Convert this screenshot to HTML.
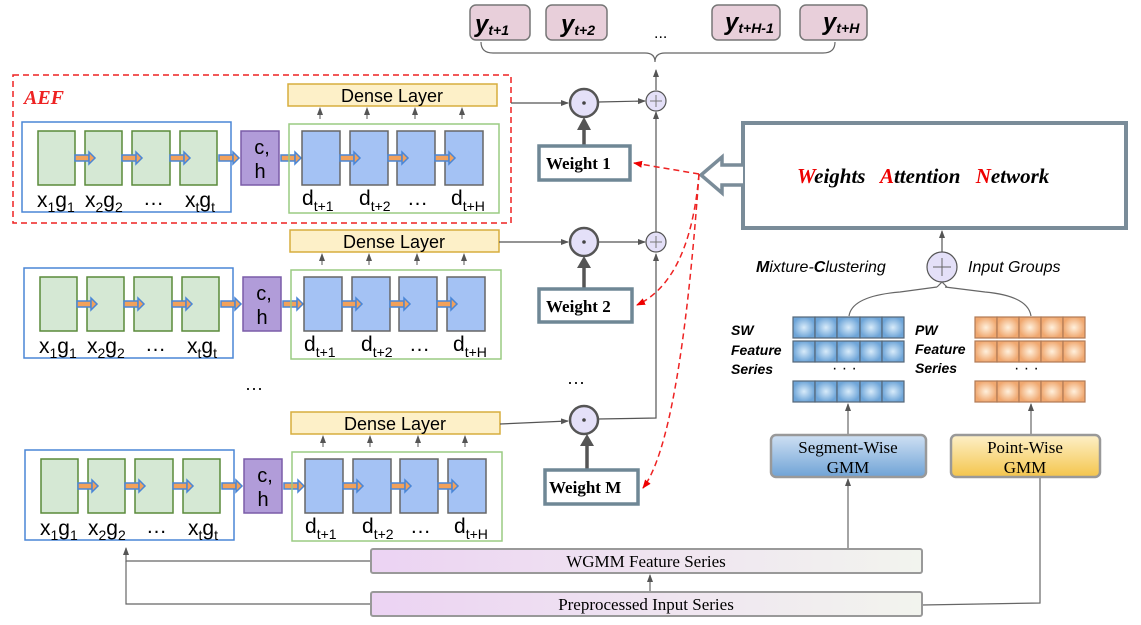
<!DOCTYPE html>
<html><head><meta charset="utf-8"><style>
html,body{margin:0;padding:0;background:#fff;width:1141px;height:625px;overflow:hidden}
svg{display:block}
.s{font-family:"Liberation Sans",sans-serif}
.r{font-family:"Liberation Serif",serif}
</style></head><body>
<svg width="1141" height="625" viewBox="0 0 1141 625" xmlns="http://www.w3.org/2000/svg">
<defs>
<marker id="a" markerWidth="8" markerHeight="8" refX="7" refY="4" orient="auto" markerUnits="userSpaceOnUse"><path d="M0,1 L8,4 L0,7z" fill="#555"/></marker>
<marker id="ar" markerWidth="9" markerHeight="9" refX="8" refY="4.5" orient="auto" markerUnits="userSpaceOnUse"><path d="M0,1 L9,4.5 L0,8z" fill="#e00"/></marker>
<linearGradient id="pk" x1="0" x2="1"><stop offset="0" stop-color="#ecd3f3"/><stop offset="1" stop-color="#f2f4ee"/></linearGradient>
<linearGradient id="sg" x1="0" y1="0" x2="0" y2="1"><stop offset="0" stop-color="#cfe0f3"/><stop offset="1" stop-color="#6fa3d6"/></linearGradient>
<linearGradient id="pg" x1="0" y1="0" x2="0" y2="1"><stop offset="0" stop-color="#fdf0c8"/><stop offset="1" stop-color="#f4c54c"/></linearGradient>
<radialGradient id="bc"><stop offset="0" stop-color="#d8ebfa"/><stop offset="1" stop-color="#6ea5d8"/></radialGradient>
<radialGradient id="oc"><stop offset="0" stop-color="#fff0dc"/><stop offset="1" stop-color="#f0a870"/></radialGradient>
<g id="arr"><rect x="0" y="-3" width="14" height="6" fill="#f2a15b" stroke="#4a86d6" stroke-width="1.5"/><path d="M14,-6 L20,0 L14,6z" fill="#f2a15b" stroke="#4a86d6" stroke-width="1.5"/></g>
<g id="row">
<rect x="22" y="122" width="209" height="90" fill="none" stroke="#4a86d6" stroke-width="1.5"/>
<g fill="#d5e8d4" stroke="#5a8a3a" stroke-width="1.5">
<rect x="38" y="131" width="37" height="54"/><rect x="85" y="131" width="37" height="54"/><rect x="132" y="131" width="38" height="54"/><rect x="180" y="131" width="37" height="54"/></g>
<use href="#arr" x="75" y="158"/><use href="#arr" x="122" y="158"/><use href="#arr" x="170" y="158"/><use href="#arr" x="219" y="158"/>
<rect x="241" y="131" width="38" height="54" fill="#b19cd9" stroke="#7a5ca8" stroke-width="1.5"/>
<text x="262" y="154" class="s" font-size="20" text-anchor="middle">c,</text><text x="260" y="178" class="s" font-size="20" text-anchor="middle">h</text>
<use href="#arr" x="281" y="158"/>
<rect x="289" y="124" width="210" height="89" fill="none" stroke="#9acb82" stroke-width="1.5"/>
<g fill="#a4c2f4" stroke="#666" stroke-width="1.5">
<rect x="302" y="131" width="38" height="54"/><rect x="350" y="131" width="38" height="54"/><rect x="397" y="131" width="38" height="54"/><rect x="445" y="131" width="38" height="54"/></g>
<use href="#arr" x="340" y="158"/><use href="#arr" x="388" y="158"/><use href="#arr" x="435" y="158"/>
<g class="s" font-size="21">
<text x="37" y="207">x<tspan font-size="14" dy="5">1</tspan><tspan dy="-5">g</tspan><tspan font-size="14" dy="5">1</tspan></text>
<text x="85" y="207">x<tspan font-size="14" dy="5">2</tspan><tspan dy="-5">g</tspan><tspan font-size="14" dy="5">2</tspan></text>
<text x="143" y="205">…</text>
<text x="185" y="207">x<tspan font-size="14" dy="5">t</tspan><tspan dy="-5">g</tspan><tspan font-size="14" dy="5">t</tspan></text>
<text x="302" y="205">d<tspan font-size="14" dy="6">t+1</tspan></text>
<text x="359" y="205">d<tspan font-size="14" dy="6">t+2</tspan></text>
<text x="407" y="205">…</text>
<text x="451" y="205">d<tspan font-size="14" dy="6">t+H</tspan></text>
</g>
<rect x="288" y="84" width="209" height="22" fill="#fdf0c8" stroke="#d7ad3e" stroke-width="1.5"/>
<text x="392" y="102" class="s" font-size="18" text-anchor="middle">Dense Layer</text>
<g stroke="#555" stroke-width="1" marker-end="url(#a)"><line x1="320" y1="119" x2="320" y2="108"/><line x1="367" y1="119" x2="367" y2="108"/><line x1="415" y1="119" x2="415" y2="108"/><line x1="462" y1="119" x2="462" y2="108"/></g>
</g>
</defs>
<rect x="13" y="75" width="498" height="148" fill="none" stroke="#e22" stroke-width="1.5" stroke-dasharray="6,4"/>
<text x="24" y="104" class="r" font-size="20" font-style="italic" font-weight="bold" fill="#e22">AEF</text>
<use href="#row"/>
<use href="#row" x="2" y="146"/>
<use href="#row" x="3" y="328"/>
<text x="245" y="394" class="s" font-size="18">···</text>
<text x="567" y="388" class="s" font-size="18">···</text>
<g fill="#e8cfda" stroke="#777" stroke-width="1.5">
<rect x="470" y="5" width="60" height="35" rx="6"/><rect x="546" y="5" width="61" height="35" rx="6"/><rect x="712" y="5" width="68" height="35" rx="6"/><rect x="800" y="5" width="67" height="35" rx="6"/></g>
<g class="s" font-weight="bold" font-style="italic">
<text x="475" y="32" font-size="24">y<tspan font-size="14" dy="3">t+1</tspan></text>
<text x="561" y="32" font-size="24">y<tspan font-size="14" dy="3">t+2</tspan></text>
<text x="725" y="30" font-size="24">y<tspan font-size="14" dy="3">t+H-1</tspan></text>
<text x="823" y="30" font-size="24">y<tspan font-size="14" dy="3">t+H</tspan></text>
<text x="654" y="38" font-size="16" font-weight="normal" font-style="normal">...</text>
</g>
<path d="M481,42 Q481,53 493,53 L645,53 Q655,53 655,62 Q655,53 665,53 L823,53 Q835,53 835,42" fill="none" stroke="#666" stroke-width="1.2"/>
<g stroke="#555" stroke-width="1.2" fill="none">
<line x1="511" y1="103" x2="568" y2="103" marker-end="url(#a)"/>
<line x1="598" y1="102" x2="645" y2="101" marker-end="url(#a)"/>
<line x1="656" y1="90" x2="656" y2="70" marker-end="url(#a)"/>
<line x1="499" y1="242" x2="568" y2="242" marker-end="url(#a)"/>
<line x1="598" y1="242" x2="645" y2="242" marker-end="url(#a)"/>
<line x1="656" y1="232" x2="656" y2="112" marker-end="url(#a)"/>
<line x1="500" y1="424" x2="568" y2="421" marker-end="url(#a)"/>
<polyline points="598,419 656,418 656,254" marker-end="url(#a)"/>
</g>
<g fill="#e4e0f8" stroke="#555">
<circle cx="584" cy="103" r="14" stroke-width="2.5"/><circle cx="584" cy="242" r="14" stroke-width="2.5"/><circle cx="584" cy="420" r="14" stroke-width="2.5"/>
<circle cx="656" cy="101" r="10" stroke-width="1.2"/><circle cx="656" cy="242" r="10" stroke-width="1.2"/></g>
<g fill="#444"><circle cx="584" cy="103" r="1.8"/><circle cx="584" cy="242" r="1.8"/><circle cx="584" cy="420" r="1.8"/></g>
<g stroke="#777" stroke-width="1"><path d="M650,101h12M656,95v12M650,242h12M656,236v12"/></g>
<g stroke="#555" stroke-width="3.5"><line x1="584" y1="146" x2="584" y2="125"/><line x1="584" y1="289" x2="584" y2="264"/><line x1="587" y1="470" x2="587" y2="442"/></g>
<g fill="#555"><path d="M577,130 L584,117 L591,130z"/><path d="M577,268 L584,256 L591,268z"/><path d="M580,446 L587,434 L594,446z"/></g>
<g fill="#fff" stroke="#6f8795" stroke-width="3.5">
<rect x="539" y="146" width="91" height="34"/><rect x="539" y="289" width="93" height="33"/><rect x="545" y="470" width="93" height="34"/></g>
<g class="r" font-weight="bold" font-size="17">
<text x="546" y="169">Weight 1</text><text x="546" y="312">Weight 2</text><text x="549" y="493">Weight M</text></g>
<rect x="743" y="123" width="383" height="105" fill="#fff" stroke="#7a8c99" stroke-width="4"/>
<text x="797" y="183" class="r" font-size="21" font-weight="bold" font-style="italic"><tspan fill="#e00">W</tspan>eights   <tspan fill="#e00" dx="10">A</tspan>ttention   <tspan fill="#e00" dx="10">N</tspan>etwork</text>
<path d="M743,165 L722,165 L722,157 L701,175 L722,193 L722,185 L743,185" fill="#fff" stroke="#7a8c99" stroke-width="3.5"/>
<g stroke="#e22" stroke-width="1.5" fill="none" stroke-dasharray="6,4">
<path d="M699,174 L634,163" marker-end="url(#ar)"/>
<path d="M699,174 Q690,280 637,305" marker-end="url(#ar)"/>
<path d="M699,174 Q680,440 643,488" marker-end="url(#ar)"/>
</g>
<line x1="942" y1="252" x2="942" y2="231" stroke="#555" stroke-width="1.2" marker-end="url(#a)"/>
<circle cx="942" cy="267" r="15" fill="#e4e0f8" stroke="#555" stroke-width="1.2"/>
<path d="M933,267h18M942,258v18" stroke="#666" stroke-width="1"/>
<text x="756" y="272" class="s" font-size="16" font-style="italic"><tspan font-weight="bold">M</tspan>ixture-<tspan font-weight="bold">C</tspan>lustering</text>
<text x="968" y="272" class="s" font-size="16" font-style="italic">Input Groups</text>
<path d="M849,316 Q852,296 900,292 L937,287 M1031,316 Q1028,296 985,292 L945,287" fill="none" stroke="#666" stroke-width="1.2"/>
<path d="M937,287 L942,282 L947,287" fill="none" stroke="#666" stroke-width="1.2"/>
<g class="s" font-size="14" font-weight="bold" font-style="italic">
<text x="731" y="335">SW</text><text x="731" y="355">Feature</text><text x="731" y="374">Series</text>
<text x="915" y="335">PW</text><text x="915" y="354">Feature</text><text x="915" y="373">Series</text></g>
<g stroke="#567" stroke-width="1.2" fill="url(#bc)">
<g id="sr"><rect x="793" y="317" width="22" height="21"/><rect x="815" y="317" width="22" height="21"/><rect x="837" y="317" width="23" height="21"/><rect x="860" y="317" width="22" height="21"/><rect x="882" y="317" width="22" height="21"/></g>
<use href="#sr" y="24"/><use href="#sr" y="64"/></g>
<g stroke="#b07a55" stroke-width="1.2" fill="url(#oc)">
<g id="or"><rect x="975" y="317" width="22" height="21"/><rect x="997" y="317" width="22" height="21"/><rect x="1019" y="317" width="22" height="21"/><rect x="1041" y="317" width="22" height="21"/><rect x="1063" y="317" width="22" height="21"/></g>
<use href="#or" y="24"/><use href="#or" y="64"/></g>
<text x="832" y="373" class="s" font-size="16">· · ·</text>
<text x="1014" y="373" class="s" font-size="16">· · ·</text>
<g stroke="#666" stroke-width="1.2" fill="none">
<line x1="848" y1="434" x2="848" y2="404" marker-end="url(#a)"/>
<line x1="1031" y1="434" x2="1031" y2="404" marker-end="url(#a)"/>
<line x1="848" y1="549" x2="848" y2="479" marker-end="url(#a)"/>
<polyline points="922,605 1040,603 1040,478"/>
<polyline points="370,561 126,561 126,548" marker-end="url(#a)"/>
<polyline points="370,604 126,604 126,561"/>
<line x1="650" y1="592" x2="650" y2="575" marker-end="url(#a)"/>
</g>
<rect x="771" y="435" width="155" height="42" rx="5" fill="url(#sg)" stroke="#999" stroke-width="2.5"/>
<rect x="951" y="435" width="149" height="42" rx="5" fill="url(#pg)" stroke="#999" stroke-width="2.5"/>
<g class="r" font-size="17" text-anchor="middle">
<text x="848" y="453">Segment-Wise</text><text x="848" y="473">GMM</text>
<text x="1025" y="453">Point-Wise</text><text x="1025" y="473">GMM</text></g>
<rect x="371" y="549" width="551" height="24" rx="2" fill="url(#pk)" stroke="#999" stroke-width="2"/>
<rect x="371" y="592" width="551" height="24" rx="2" fill="url(#pk)" stroke="#999" stroke-width="2"/>
<g class="r" font-size="17" text-anchor="middle"><text x="646" y="567">WGMM Feature Series</text><text x="646" y="610">Preprocessed Input Series</text></g>
</svg>
</body></html>
